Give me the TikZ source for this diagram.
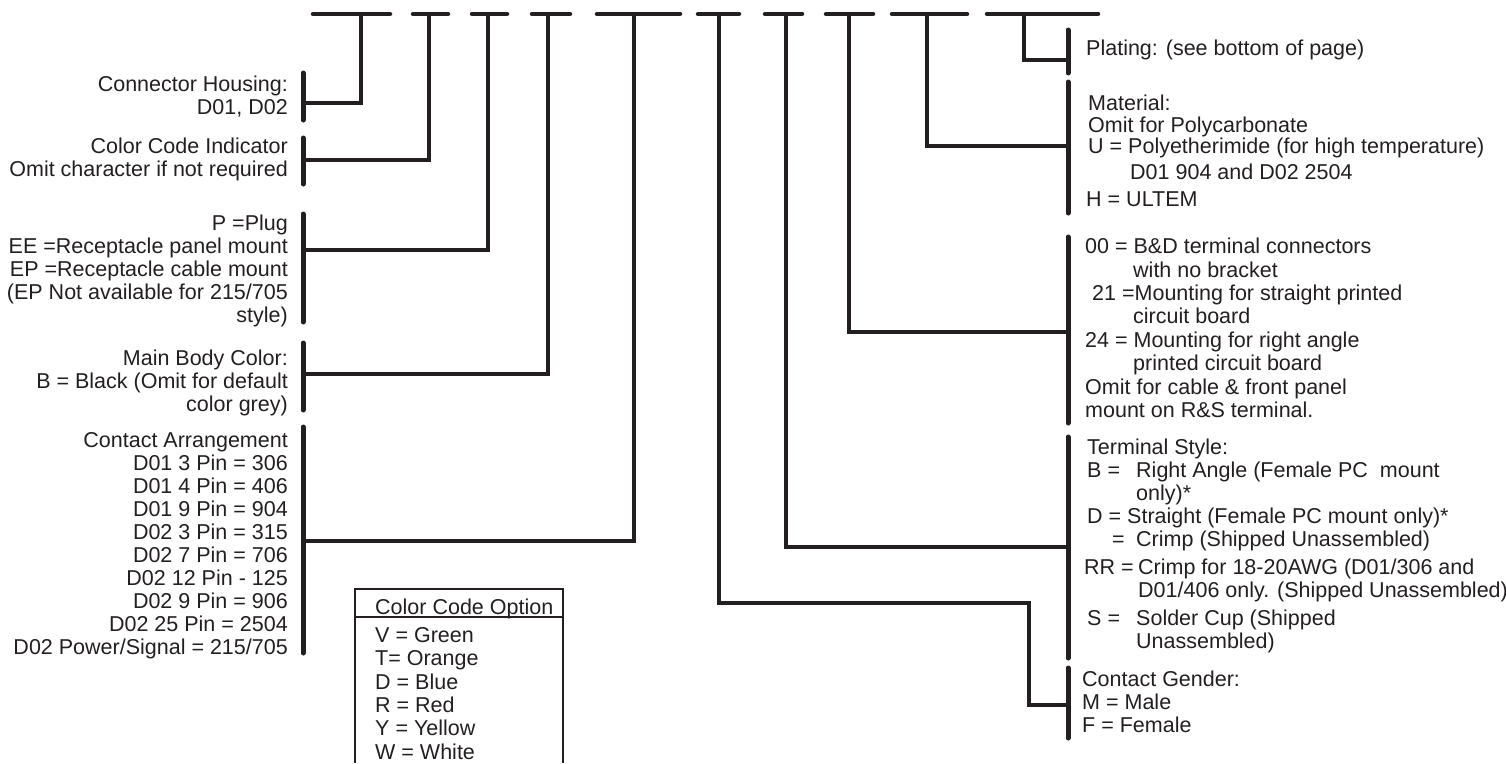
\documentclass[tikz,border=0pt]{standalone}
\usepackage{fontspec}
\setmainfont{Liberation Sans}
\definecolor{ink}{HTML}{231F20}
\begin{document}
\begin{tikzpicture}[x=1pt,y=-1pt,
  dashseg/.style={draw=ink, line width=4.5pt, line cap=round},
  stem/.style={draw=ink, line width=3.5pt, line join=miter},
  bar/.style={draw=ink, line width=5pt, line cap=round},
  boxline/.style={draw=ink, line width=2pt},
  lbl/.style={inner sep=0pt, text=ink, font=\fontsize{21.5}{23}\selectfont},
  lblL/.style={lbl, align=right, anchor=north east},
  lblR/.style={lbl, align=left, anchor=north west}]
\useasboundingbox (0,0) rectangle (1506,763);

% top field dashes
\foreach \a/\b in {313/390,413/448,472/507,532/570,597/680,698/739,765/802,826/873,892/967,987/1098}
  \draw[dashseg] (\a,14) -- (\b,14);

% stem tops
\coordinate (t1) at (361,14);
\coordinate (t2) at (429,14);
\coordinate (t3) at (488,14);
\coordinate (t4) at (548,14);
\coordinate (t5) at (634,14);
\coordinate (t6) at (719,14);
\coordinate (t7) at (786,14);
\coordinate (t8) at (849,14);
\coordinate (t9) at (927,14);
\coordinate (t10) at (1024,14);

% left bars
\draw[bar] (303,73) -- (303,120);
\draw[bar] (303,138) -- (303,184);
\draw[bar] (303,214) -- (303,322);
\draw[bar] (303,343) -- (303,410);
\draw[bar] (303,427) -- (303,653);
% right bars
\draw[bar] (1068,30) -- (1068,73);
\draw[bar] (1068,82) -- (1068,213);
\draw[bar] (1068,237) -- (1068,423);
\draw[bar] (1068,437) -- (1068,658);
\draw[bar] (1068,668) -- (1068,738);

% junctions
\coordinate (j1) at (303,103);
\coordinate (j2) at (303,160);
\coordinate (j3) at (303,250);
\coordinate (j4) at (303,374);
\coordinate (j5) at (303,541);
\coordinate (j6) at (1068,705);
\coordinate (c6) at (1029,603);
\coordinate (j7) at (1068,547);
\coordinate (j8) at (1068,332);
\coordinate (j9) at (1068,146);
\coordinate (j10) at (1068,60);

% connectors
\draw[stem] (t1) |- (j1);
\draw[stem] (t2) |- (j2);
\draw[stem] (t3) |- (j3);
\draw[stem] (t4) |- (j4);
\draw[stem] (t5) |- (j5);
\draw[stem] (t6) |- (c6) |- (j6);
\draw[stem] (t7) |- (j7);
\draw[stem] (t8) |- (j8);
\draw[stem] (t9) |- (j9);
\draw[stem] (t10) |- (j10);

% left labels
\node[lblL] (housing) at (288,76) {Connector Housing:\\D01, D02};
\node[lblL] (cci) at (288,138) {Color Code Indicator\\Omit character if not required};
\node[lblL] (plug) at (288,215) {P =Plug\\EE =Receptacle panel mount\\EP =Receptacle cable mount\\(EP Not available for 215/705\\style)};
\node[lblL] (body) at (288,350) {Main Body Color:\\B = Black (Omit for default\\color grey)};
\node[lblL] (arr) at (288,432) {Contact Arrangement\\D01 3 Pin = 306\\D01 4 Pin = 406\\D01 9 Pin = 904\\D02 3 Pin = 315\\D02 7 Pin = 706\\D02 12 Pin - 125\\D02 9 Pin = 906\\D02 25 Pin = 2504\\D02 Power/Signal = 215/705};

% right labels
\node[lblR] (plating) at (1086,40) {Plating: (see bottom of page)};
\node[lblR, font=\fontsize{21.5}{21.5}\selectfont] (material) at (1088,95) {Material:\\Omit for Polycarbonate\\U = Polyetherimide (for high temperature)};
\node[lblR] (matd) at (1130,164) {D01 904 and D02 2504};
\node[lblR] (math) at (1086,192) {H = ULTEM};
\node[lblR, font=\fontsize{21.5}{23.4}\selectfont] (mount) at (1085,238) {00 = B\&D terminal connectors\\\hspace*{48pt}with no bracket\\\hspace*{7pt}21 =Mounting for straight printed\\\hspace*{48pt}circuit board\\24 = Mounting for right angle\\\hspace*{48pt}printed circuit board\\Omit for cable \& front panel\\mount on R\&S terminal.};
\node[lblR] (term) at (1087,439) {Terminal Style:\\\makebox[49pt][l]{B =}Right Angle (Female PC\ \ mount\\\hspace*{49pt}only)*\\\makebox[40pt][l]{D =}Straight (Female PC mount only)*\\\hspace*{25pt}\makebox[24pt][l]{=}Crimp (Shipped Unassembled)\\[5pt]\hspace*{-3pt}\makebox[54pt][l]{RR =}Crimp for 18-20AWG (D01/306 and\\\hspace*{51pt}D01/406 only. (Shipped Unassembled)\\[5pt]\makebox[49pt][l]{S =}Solder Cup (Shipped\\\hspace*{49pt}Unassembled)};
\node[lblR] (gender) at (1082,671) {Contact Gender:\\M = Male\\F = Female};

% colour code box
\coordinate (bxbl) at (355,763);
\coordinate (bxtr) at (563,589);
\coordinate (bxbr) at (563,763);
\draw[boxline] (bxbl) |- (bxtr) -- (bxbr);
\draw[boxline] (355,617) -- (563,617);
\node[lblR] (cctitle) at (375,599) {Color Code Option};
\node[lblR, font=\fontsize{21.5}{23.4}\selectfont] (ccopts) at (375,627) {V = Green\\T= Orange\\D = Blue\\R = Red\\Y = Yellow\\W = White};
\end{tikzpicture}
\end{document}
